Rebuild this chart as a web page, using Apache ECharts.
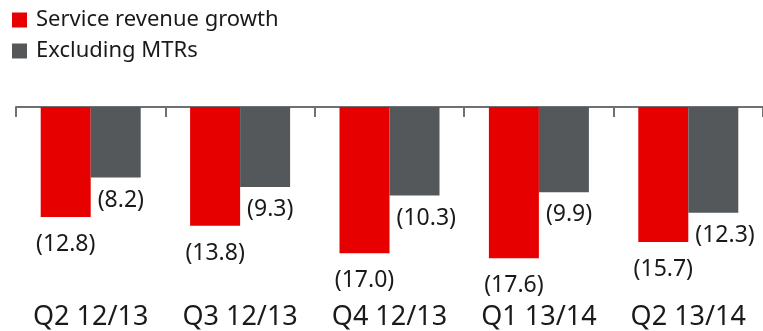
<!DOCTYPE html>
<html>
<head>
<meta charset="utf-8">
<script src="https://cdn.jsdelivr.net/npm/echarts@6/dist/echarts.min.js"></script>
<style>
  html, body { margin: 0; padding: 0; background: #ffffff; }
  #chart { width: 763px; height: 331px; }
</style>
</head>
<body>
<div id="chart"></div>
<script>
// Quarterly service revenue growth (%), shown as declines
const quarters = ['Q2 12/13', 'Q3 12/13', 'Q4 12/13', 'Q1 13/14', 'Q2 13/14'];
const serviceRevenueGrowth = [-12.8, -13.8, -17.0, -17.6, -15.7];
const excludingMTRs = [-8.2, -9.3, -10.3, -9.9, -12.3];
const seriesNames = ['Service revenue growth', 'Excluding MTRs'];

const RED = '#e60000';
const GREY = '#54585a';
const AXIS = '#6e7072';
const FONT = 'Noto Sans';

const fmt = p => '(' + Math.abs(p.value).toFixed(1) + ')';

const chart = echarts.init(document.getElementById('chart'), null, { renderer: 'canvas' });
chart.setOption({
  animation: false,
  backgroundColor: '#ffffff',
  textStyle: { fontFamily: FONT, color: '#1a1a1a' },
  legend: {
    orient: 'vertical',
    left: 12,
    top: 9,
    padding: 0,
    itemWidth: 15,
    itemHeight: 15,
    itemGap: 9,
    icon: 'rect',
    selectedMode: false,
    textStyle: { fontFamily: FONT, fontSize: 22, color: '#1a1a1a', padding: [0, 0, 0, 4] },
    data: seriesNames
  },
  grid: { left: 16, right: -3, top: 107, height: 173.4 },
  xAxis: [
    {
      type: 'category',
      data: quarters,
      position: 'top',
      axisLine: { show: true, lineStyle: { color: AXIS, width: 2 } },
      axisTick: { show: true, inside: true, length: 10, lineStyle: { color: AXIS, width: 2 } },
      axisLabel: { show: false }
    },
    {
      type: 'category',
      data: quarters,
      position: 'bottom',
      axisLine: { show: false },
      axisTick: { show: false },
      axisLabel: {
        show: true,
        interval: 0,
        hideOverlap: false,
        margin: 25,
        fontFamily: FONT,
        fontSize: 27,
        color: '#1a1a1a'
      }
    }
  ],
  yAxis: {
    type: 'value',
    min: -20,
    max: 0,
    show: false
  },
  series: [
    {
      name: seriesNames[0],
      type: 'bar',
      xAxisIndex: 0,
      data: serviceRevenueGrowth,
      barWidth: 50,
      barGap: '0%',
      itemStyle: { color: RED },
      label: {
        show: true,
        position: 'bottom',
        distance: 16,
        formatter: fmt,
        fontFamily: FONT,
        fontSize: 23,
        color: '#1a1a1a'
      }
    },
    {
      name: seriesNames[1],
      type: 'bar',
      xAxisIndex: 0,
      data: excludingMTRs,
      barWidth: 50,
      barGap: '0%',
      itemStyle: { color: GREY },
      label: {
        show: true,
        position: 'bottom',
        distance: 11,
        align: 'left',
        offset: [-18, 0],
        formatter: fmt,
        fontFamily: FONT,
        fontSize: 23,
        color: '#1a1a1a'
      }
    }
  ]
});
</script>
</body>
</html>
